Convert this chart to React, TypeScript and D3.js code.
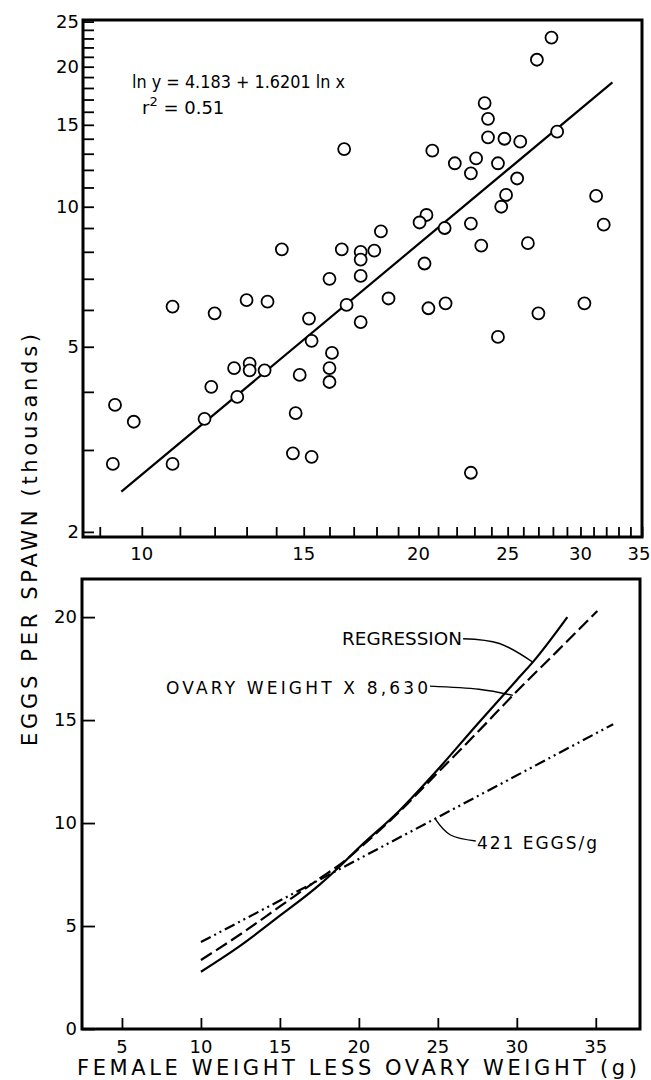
import React, { useEffect, useRef } from 'react'
import * as d3 from 'd3'

// top panel: eggs per spawn vs female weight (log-log)
const scatterX = [
  27.9, 26.9, 23.6, 23.8, 23.8, 24.8, 25.8, 28.3, 20.7, 16.6,
  21.9, 23.1, 24.4, 22.8, 25.6, 24.9, 31.2, 24.6, 31.8, 20.4,
  20.05, 21.35, 22.8, 18.2, 14.2, 16.5, 17.3, 17.3, 17.9, 20.3,
  23.4, 26.3, 16.0, 17.3, 10.8, 12.0, 13.0, 13.7, 16.7, 15.2,
  17.3, 18.55, 20.5, 21.4, 30.3, 27.0, 24.4, 15.3, 16.1, 12.6,
  13.1, 13.1, 13.6, 14.85, 16.0, 16.0, 11.9, 12.7, 11.7, 14.7,
  9.35, 9.8, 9.3, 10.8, 14.6, 15.3, 22.8,
]
const scatterY = [
  23.1, 20.7, 16.7, 15.45, 14.1, 14.0, 13.8, 14.5, 13.2, 13.3,
  12.4, 12.7, 12.4, 11.8, 11.5, 10.6, 10.55, 10.0, 9.15, 9.6,
  9.25, 9.0, 9.2, 8.85, 8.1, 8.1, 8.0, 7.7, 8.05, 7.55,
  8.25, 8.35, 7.0, 7.1, 6.1, 5.9, 6.3, 6.25, 6.15, 5.75,
  5.65, 6.35, 6.05, 6.2, 6.2, 5.9, 5.25, 5.15, 4.85, 4.5,
  4.6, 4.45, 4.45, 4.35, 4.5, 4.2, 4.1, 3.9, 3.5, 3.6,
  3.75, 3.45, 2.8, 2.8, 2.95, 2.9, 2.68,
]
const fitLineX = [9.5, 32.5]
const fitLineY = [2.44, 18.5]

const topXTicks = [10, 15, 20, 25, 30, 35]
const topYTicks = [2, 5, 10, 15, 20, 25]
const topXMinor = d3.range(9, 36)
const topYMinor = d3.range(2, 26)

// bottom panel: three predictions of eggs per spawn
const regressionX = [10, 12.5, 15, 17.5, 19, 20, 22.5, 25, 27.5, 30, 31, 33.2]
const regressionY = [2.78, 4.05, 5.5, 7.0, 8.05, 8.8, 10.55, 12.6, 14.8, 16.95, 17.8, 20.0]
const ovaryX = [10, 12.5, 15, 17.5, 19, 20, 22.5, 25, 27.5, 30, 32.5, 35.1]
const ovaryY = [3.35, 4.6, 5.95, 7.3, 8.1, 8.75, 10.5, 12.45, 14.4, 16.4, 18.3, 20.3]
const perGramX = [10, 24.8, 36.1]
const perGramY = [4.22, 10.2, 14.8]

const botXTicks = [5, 10, 15, 20, 25, 30, 35]
const botYTicks = [0, 5, 10, 15, 20]

const FONT = '"DejaVu Sans", sans-serif'

const App = () => {
  const svgRef = useRef<SVGSVGElement | null>(null)

  useEffect(() => {
    const svg = d3.select(svgRef.current)
    svg.selectAll('*').remove()

    // ---------- top panel ----------
    const xT = d3.scaleLog().domain([8.63, 35]).range([83, 642])
    const yT = d3.scaleLog().domain([1.95, 25.2]).range([537, 20])

    const top = svg.append('g')

    const minorX = d3.axisBottom(xT).tickValues(topXMinor).tickSize(-10).tickFormat(() => '')
    top.append('g').attr('transform', 'translate(0,537)').call(minorX)
    const minorY = d3.axisLeft(yT).tickValues(topYMinor).tickSize(-11).tickFormat(() => '')
    top.append('g').attr('transform', 'translate(83,0)').call(minorY)

    top.selectAll('.domain').remove()
    top.selectAll('.tick line').attr('stroke', '#000').attr('stroke-width', 1.8)

    top.selectAll('.xlab')
      .data(topXTicks)
      .enter()
      .append('text')
      .attr('x', d => Math.min(xT(d), 639))
      .attr('y', 560)
      .attr('text-anchor', 'middle')
      .style('font-family', FONT)
      .style('font-size', '18px')
      .text(d => d)

    top.selectAll('.ylab')
      .data(topYTicks)
      .enter()
      .append('text')
      .attr('x', 79)
      .attr('y', d => yT(d) + 6)
      .attr('text-anchor', 'end')
      .style('font-family', FONT)
      .style('font-size', '18px')
      .text(d => d)

    top.append('rect')
      .attr('x', 83).attr('y', 20)
      .attr('width', 642 - 83).attr('height', 537 - 20)
      .attr('fill', 'none').attr('stroke', '#000').attr('stroke-width', 3)

    const fitLine = d3.line<number>()
      .x((d, i) => xT(fitLineX[i]))
      .y(d => yT(d))
    top.append('path')
      .attr('d', fitLine(fitLineY))
      .attr('fill', 'none').attr('stroke', '#000').attr('stroke-width', 2.2)

    top.selectAll('.dot')
      .data(scatterX.map((x, i) => ({ x, y: scatterY[i] })))
      .enter()
      .append('circle')
      .attr('cx', d => xT(d.x))
      .attr('cy', d => yT(d.y))
      .attr('r', 6)
      .attr('fill', '#fff')
      .attr('stroke', '#000')
      .attr('stroke-width', 1.8)

    const eq = top.append('g').style('font-family', FONT).style('font-size', '18px')
    eq.append('text').attr('x', 132).attr('y', 88)
      .attr('textLength', 213).attr('lengthAdjust', 'spacingAndGlyphs')
      .text('ln y = 4.183 + 1.6201 ln x')
    const r2 = eq.append('text').attr('x', 142).attr('y', 114)
    r2.append('tspan').text('r')
    r2.append('tspan').attr('dy', -8).style('font-size', '13px').text('2')
    r2.append('tspan').attr('dy', 8).text(' = 0.51')

    // ---------- bottom panel ----------
    const xB = d3.scaleLinear().domain([2.47, 37.8]).range([82, 640])
    const yB = d3.scaleLinear().domain([0, 21.85]).range([1029, 579])

    const bot = svg.append('g')
    const bx = d3.axisBottom(xB).tickValues(botXTicks).tickSize(-11).tickFormat(() => '')
    bot.append('g').attr('transform', 'translate(0,1029)').call(bx)
    const by = d3.axisLeft(yB).tickValues(botYTicks).tickSize(-13).tickFormat(() => '')
    bot.append('g').attr('transform', 'translate(82,0)').call(by)
    bot.selectAll('.domain').remove()
    bot.selectAll('.tick line').attr('stroke', '#000').attr('stroke-width', 1.8)

    bot.selectAll('.xlab')
      .data(botXTicks)
      .enter()
      .append('text')
      .attr('x', d => xB(d))
      .attr('y', 1053)
      .attr('text-anchor', 'middle')
      .style('font-family', FONT)
      .style('font-size', '18px')
      .text(d => d)

    bot.selectAll('.ylab')
      .data(botYTicks)
      .enter()
      .append('text')
      .attr('x', 77)
      .attr('y', d => yB(d) + 6)
      .attr('text-anchor', 'end')
      .style('font-family', FONT)
      .style('font-size', '18px')
      .text(d => d)

    bot.append('rect')
      .attr('x', 82).attr('y', 579)
      .attr('width', 640 - 82).attr('height', 1029 - 579)
      .attr('fill', 'none').attr('stroke', '#000').attr('stroke-width', 3)

    const curve = (xs: number[]) => d3.line<number>()
      .x((d, i) => xB(xs[i]))
      .y(d => yB(d))
      .curve(d3.curveMonotoneX)

    bot.append('path')
      .attr('d', curve(regressionX)(regressionY))
      .attr('fill', 'none').attr('stroke', '#000').attr('stroke-width', 2.2)
    bot.append('path')
      .attr('d', curve(ovaryX)(ovaryY))
      .attr('fill', 'none').attr('stroke', '#000').attr('stroke-width', 2.2)
      .attr('stroke-dasharray', '13,5')
    bot.append('path')
      .attr('d', curve(perGramX)(perGramY))
      .attr('fill', 'none').attr('stroke', '#000').attr('stroke-width', 2.2)
      .attr('stroke-dasharray', '11,4,2,4,2,4')

    // labels with leaders
    const leader = d3.line<[number, number]>()
      .x(d => xB(d[0]))
      .y(d => yB(d[1]))
      .curve(d3.curveNatural)
    const leaders: [number, number][][] = [
      [[26.6, 18.95], [28.9, 18.72], [31.0, 17.82]],
      [[24.5, 16.65], [27.6, 16.5], [29.75, 16.2]],
      [[24.8, 10.24], [25.8, 9.42], [27.4, 9.13]],
    ]
    leaders.forEach(p => {
      bot.append('path').attr('d', leader(p))
        .attr('fill', 'none').attr('stroke', '#000').attr('stroke-width', 1.4)
    })

    const lab = bot.append('g').style('font-family', FONT).style('font-size', '17px')
    lab.append('text').attr('x', 342).attr('y', 645)
      .attr('textLength', 120).attr('lengthAdjust', 'spacingAndGlyphs')
      .text('REGRESSION')
    lab.append('text').attr('x', 166).attr('y', 694)
      .attr('textLength', 262).attr('lengthAdjust', 'spacing')
      .text('OVARY WEIGHT X 8,630')
    lab.append('text').attr('x', 477).attr('y', 849)
      .attr('textLength', 120).attr('lengthAdjust', 'spacing')
      .text('421 EGGS/g')

    // axis titles
    svg.append('text')
      .attr('x', 77).attr('y', 1075)
      .attr('textLength', 560).attr('lengthAdjust', 'spacing')
      .style('font-family', FONT).style('font-size', '21px')
      .text('FEMALE WEIGHT LESS OVARY WEIGHT (g)')

    svg.append('text')
      .attr('transform', 'translate(37,540) rotate(-90)')
      .attr('text-anchor', 'middle')
      .attr('textLength', 412).attr('lengthAdjust', 'spacing')
      .style('font-family', FONT).style('font-size', '21px')
      .text('EGGS PER SPAWN (thousands)')
  }, [])

  return (
    <svg
      ref={svgRef}
      width={651}
      height={1080}
      style={{ position: 'absolute', left: 0, top: 0, background: '#fff' }}
    />
  )
}

export default App
